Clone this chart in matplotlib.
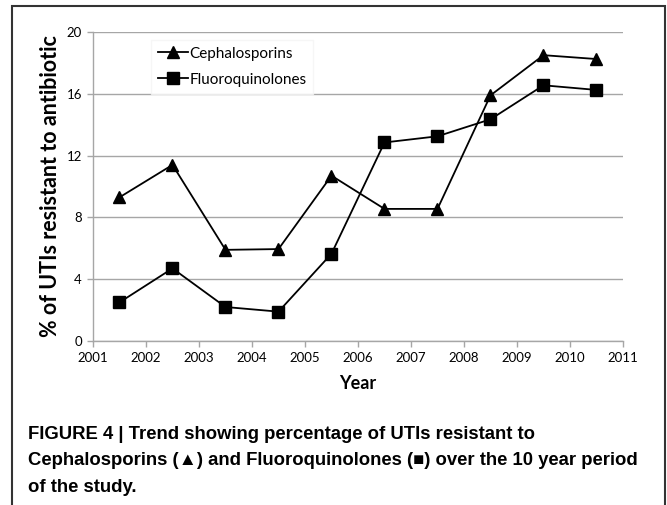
import matplotlib.pyplot as plt
from matplotlib.patches import Rectangle

# %% Data
years  = [2001.5, 2002.5, 2003.5, 2004.5, 2005.5, 2006.5, 2007.5, 2008.5, 2009.5, 2010.5]
cephal = [9.3, 11.4, 5.9, 5.95, 10.7, 8.55, 8.55, 15.9, 18.5, 18.25]
fluoro = [2.5, 4.7, 2.2, 1.9, 5.65, 12.85, 13.25, 14.35, 16.55, 16.25]
x_ticks = list(range(2001, 2012))
y_ticks = [0, 4, 8, 12, 16, 20]

caption = ("FIGURE 4 | Trend showing percentage of UTIs resistant to\n"
           "Cephalosporins (\u25b2) and Fluoroquinolones (\u25a0) over the 10 year period\n"
           "of the study.")

# %% Figure
fig = plt.figure(figsize=(6.67, 5.05), dpi=100)
ax = fig.add_axes([93 / 667, 1 - 341 / 505, 530 / 667, 309 / 505])

grid_c = '#a6a6a6'
ax.plot(years, cephal, color='black', lw=1.3, marker='^', ms=9, label='Cephalosporins')
ax.plot(years, fluoro, color='black', lw=1.3, marker='s', ms=8, label='Fluoroquinolones')

ax.set_xlim(2001, 2011)
ax.set_ylim(0, 20)
ax.set_xticks(x_ticks)
ax.set_yticks(y_ticks)
ax.set_xticklabels([str(t) for t in x_ticks], family='Lato', fontsize=9.5)
ax.set_yticklabels([str(t) for t in y_ticks], family='Lato', fontsize=9.5)
ax.yaxis.grid(True, color=grid_c, lw=1)
ax.set_axisbelow(True)
for side in ['top', 'right']:
    ax.spines[side].set_visible(False)
for side in ['left', 'bottom']:
    ax.spines[side].set_color(grid_c)
    ax.spines[side].set_linewidth(1)
ax.tick_params(axis='both', color=grid_c, length=4, width=1, pad=4)
ax.tick_params(axis='x', direction='out')

ax.set_xlabel('Year', family='Lato', fontweight='bold', fontsize=13, labelpad=8)
ax.set_ylabel('% of UTIs resistant to antibiotic', family='Lato', fontweight='bold',
              fontsize=15.5, labelpad=4)

leg = ax.legend(loc='upper left', bbox_to_anchor=(0.095, 1.0), frameon=True,
                fancybox=False, edgecolor='#f4f4f4', prop={'family': 'Lato', 'size': 11},
                handlelength=2.0, handletextpad=0.05, labelspacing=0.8, borderpad=0.45)

# outer frame
fig.patches.append(Rectangle((12 / 667, -0.1), 653 / 667, 1.1 - 6 / 505,
                             transform=fig.transFigure, fill=False,
                             edgecolor='#333333', lw=1.5))

fig.text(28 / 667, 1 - 426 / 505, caption, family=['Liberation Sans', 'DejaVu Sans'],
         fontweight='bold', fontsize=13.3, va='top', ha='left', linespacing=1.72)

fig.savefig('out.png', dpi=100)
